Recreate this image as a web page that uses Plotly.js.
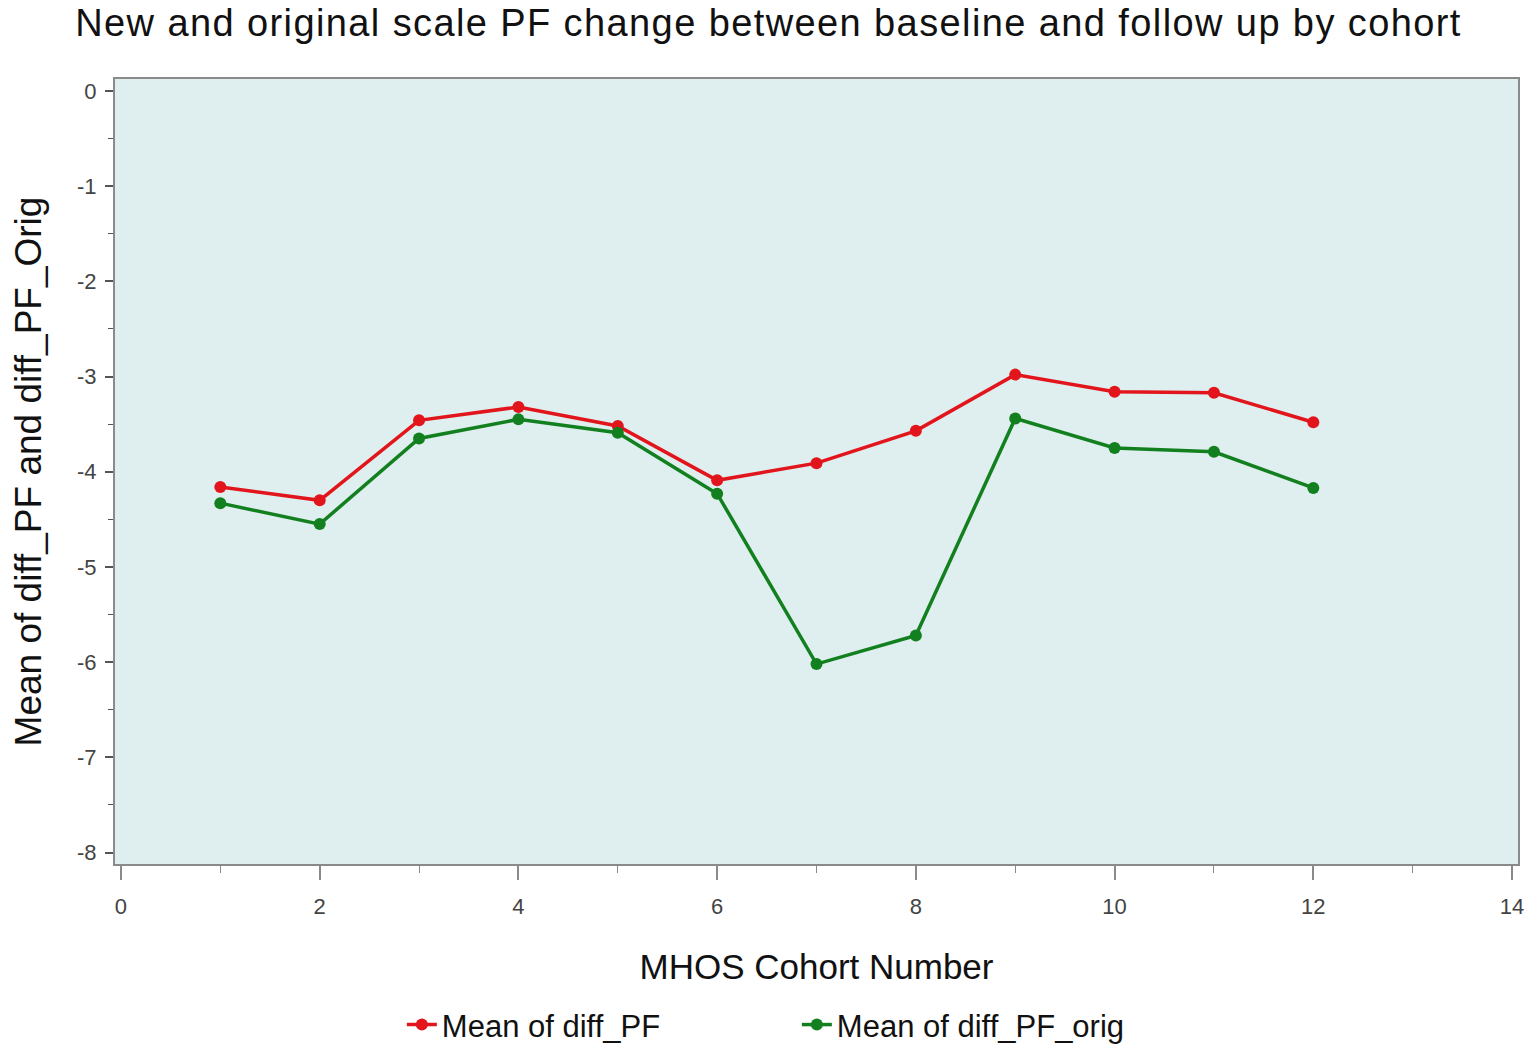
<!DOCTYPE html>
<html>
<head>
<meta charset="utf-8">
<script src="https://cdn.plot.ly/plotly-3.0.1.min.js"></script>
<style>
html,body{margin:0;padding:0;background:#fff;}
#chart{width:1537px;height:1064px;}
.gtitle{letter-spacing:1.4px;}
</style>
</head>
<body>
<div id="chart"></div>
<script>
const cohorts = [1, 2, 3, 4, 5, 6, 7, 8, 9, 10, 11, 12];
const diffPF = [-4.16, -4.30, -3.46, -3.32, -3.52, -4.09, -3.91, -3.57, -2.98, -3.16, -3.17, -3.48];
const diffPFOrig = [-4.33, -4.55, -3.65, -3.45, -3.59, -4.23, -6.02, -5.72, -3.44, -3.75, -3.79, -4.17];
const seriesNames = ["Mean of diff_PF", "Mean of diff_PF_orig"];
const xTicks = [0, 2, 4, 6, 8, 10, 12, 14];
const yTicks = [0, -1, -2, -3, -4, -5, -6, -7, -8];

const red = "#e2151c";
const green = "#12801f";

const traces = [
  {x: cohorts, y: diffPF, name: seriesNames[0], type: "scatter", mode: "lines+markers",
   line: {color: red, width: 3.5}, marker: {color: red, size: 12}},
  {x: cohorts, y: diffPFOrig, name: seriesNames[1], type: "scatter", mode: "lines+markers",
   line: {color: green, width: 3.5}, marker: {color: green, size: 12}}
];

const tickFont = {family: "Liberation Sans, Arial, sans-serif", size: 22, color: "#444"};
const layout = {
  width: 1537, height: 1064,
  margin: {l: 115, r: 19, t: 79, b: 194},
  paper_bgcolor: "#ffffff",
  plot_bgcolor: "#dfeeee",
  font: {family: "Liberation Sans, Arial, sans-serif", color: "#111"},
  title: {text: "New and original scale PF change between baseline and follow up by cohort",
          font: {size: 38, color: "#111"}, x: 0.5, xanchor: "center", y: 0.979, yanchor: "middle"},
  xaxis: {
    range: [-0.06, 14.06], tickvals: xTicks, ticktext: xTicks.map(String),
    showgrid: false, zeroline: false, showline: true, linecolor: "#8a8a8a", linewidth: 2, mirror: true,
    ticks: "outside", ticklen: 14, tickcolor: "#8a8a8a", tickwidth: 2,
    minor: {dtick: 1, tick0: 1, ticks: "outside", ticklen: 7, tickcolor: "#8a8a8a", tickwidth: 1, showgrid: false},
    tickfont: tickFont, ticklabelstandoff: 8,
    title: {text: "MHOS Cohort Number", font: {size: 35, color: "#111"}, standoff: 36}
  },
  yaxis: {
    range: [-8.12, 0.125], tickvals: yTicks, ticktext: yTicks.map(String),
    showgrid: false, zeroline: false, showline: true, linecolor: "#8a8a8a", linewidth: 2, mirror: true,
    ticks: "outside", ticklen: 8, tickcolor: "#555", tickwidth: 2,
    minor: {dtick: 0.5, ticks: "outside", ticklen: 5, tickcolor: "#555", tickwidth: 1, showgrid: false},
    tickfont: tickFont, ticklabelstandoff: 4,
    title: {text: "Mean of diff_PF and diff_PF_Orig", font: {size: 37, color: "#111"}, standoff: 24}
  },
  showlegend: true,
  legend: {orientation: "h", x: 0.486, xanchor: "center", y: -0.205, yanchor: "middle",
           font: {size: 31, color: "#111"}, itemwidth: 30, entrywidth: 350, entrywidthmode: "pixels",
           traceorder: "normal", bgcolor: "rgba(0,0,0,0)"}
};

Plotly.newPlot("chart", traces, layout, {displayModeBar: false, staticPlot: true});
</script>
</body>
</html>
